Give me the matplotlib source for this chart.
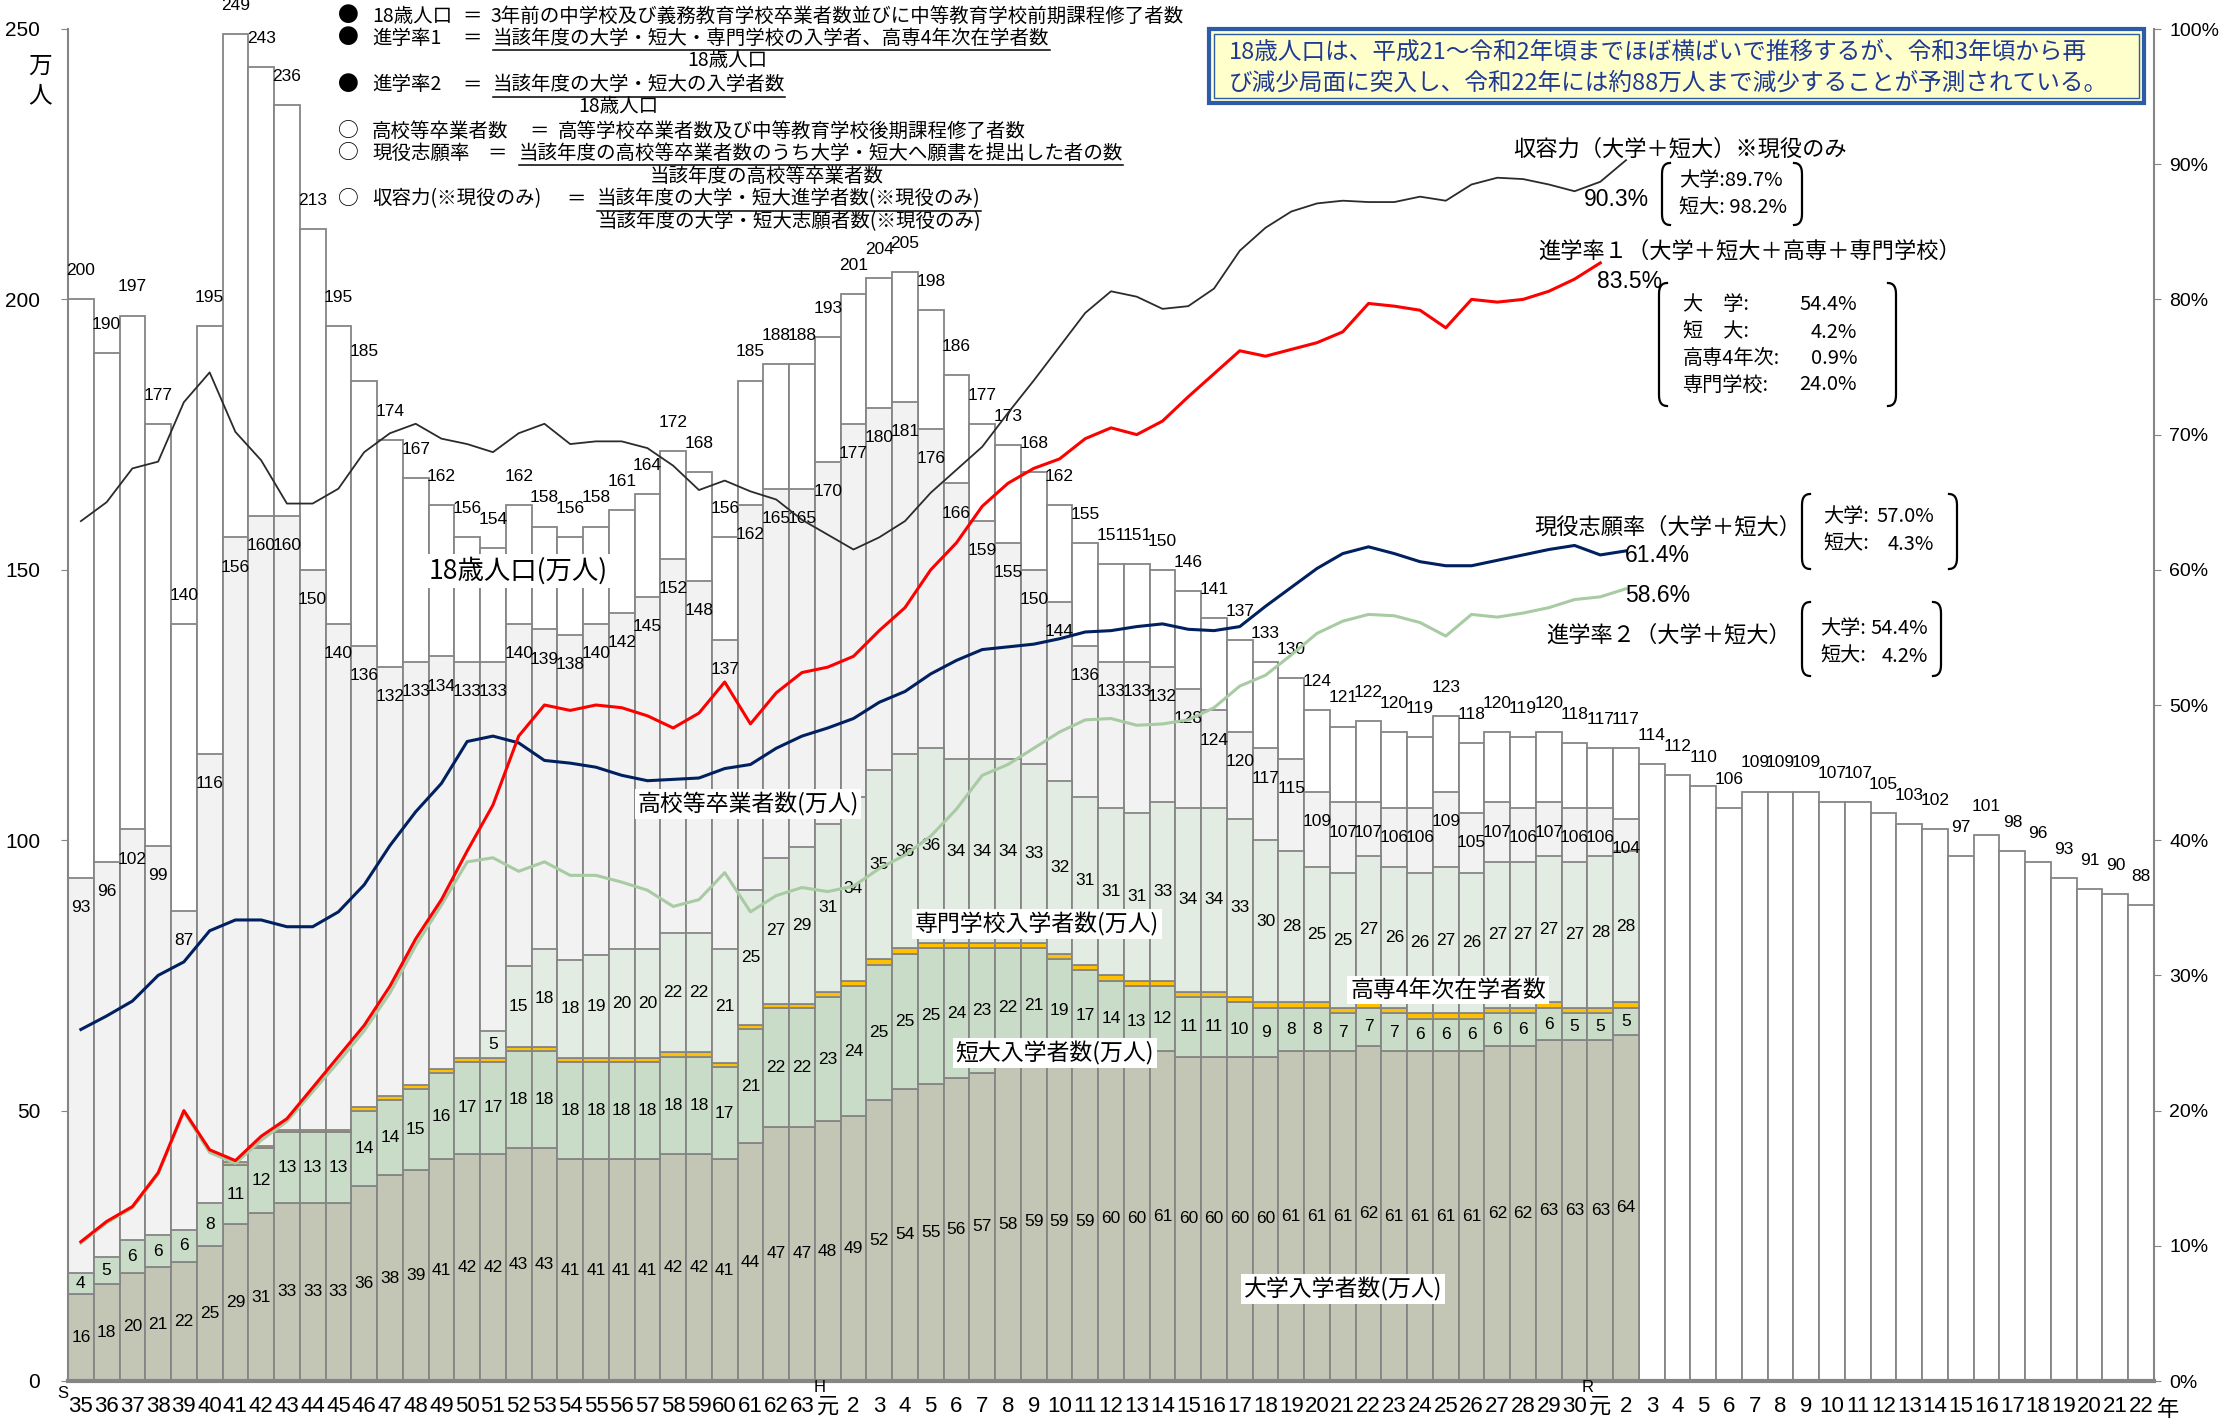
import matplotlib
matplotlib.use('Agg')
import matplotlib.pyplot as plt
from matplotlib import font_manager as fm
from matplotlib.lines import Line2D
from matplotlib.patches import Rectangle
import numpy as np

JP = 'Noto Sans CJK JP'


def has_font(name):
    try:
        fm.findfont(fm.FontProperties(family=name), fallback_to_default=False)
        return True
    except Exception:
        return False


SANS = 'Liberation Sans' if has_font('Liberation Sans') else 'DejaVu Sans'
if has_font('Liberation Sans Narrow'):
    NARROW, NUM_SIZE = 'Liberation Sans Narrow', 14
else:
    NARROW, NUM_SIZE = SANS, 12.5

plt.rcParams['font.family'] = [JP, 'DejaVu Sans']

# --- data (S35 = 1960 ... R22 = 2040), unit: 万人 / % ---
tick_labels = ([str(n) for n in range(35, 64)] + ['元'] + [str(n) for n in range(2, 31)]
               + ['元'] + [str(n) for n in range(2, 23)])

pop18 = [200, 190, 197, 177, 140, 195, 249, 243, 236, 213,
         195, 185, 174, 167, 162, 156, 154, 162, 158, 156,
         158, 161, 164, 172, 168, 156, 185, 188, 188,
         193, 201, 204, 205, 198, 186, 177, 173, 168, 162,
         155, 151, 151, 150, 146, 141, 137, 133, 130, 124,
         121, 122, 120, 119, 123, 118, 120, 119, 120, 118,
         117, 117, 114, 112, 110, 106, 109, 109, 109, 107, 107,
         105, 103, 102, 97, 101, 98, 96, 93, 91, 90, 88]

hs_grad = [93, 96, 102, 99, 87, 116, 156, 160, 160, 150,
           140, 136, 132, 133, 134, 133, 133, 140, 139, 138,
           140, 142, 145, 152, 148, 137, 162, 165, 165,
           170, 177, 180, 181, 176, 166, 159, 155, 150, 144,
           136, 133, 133, 132, 128, 124, 120, 117, 115, 109,
           107, 107, 106, 106, 109, 105, 107, 106, 107, 106,
           106, 104]

univ = [16, 18, 20, 21, 22, 25, 29, 31, 33, 33,
        33, 36, 38, 39, 41, 42, 42, 43, 43, 41,
        41, 41, 41, 42, 42, 41, 44, 47, 47,
        48, 49, 52, 54, 55, 56, 57, 58, 59, 59,
        59, 60, 60, 61, 60, 60, 60, 60, 61, 61,
        61, 62, 61, 61, 61, 61, 62, 62, 63, 63,
        63, 64]

junior = [4, 5, 6, 6, 6, 8, 11, 12, 13, 13,
          13, 14, 14, 15, 16, 17, 17, 18, 18, 18,
          18, 18, 18, 18, 18, 17, 21, 22, 22,
          23, 24, 25, 25, 25, 24, 23, 22, 21, 19,
          17, 14, 13, 12, 11, 11, 10, 9, 8, 8,
          7, 7, 7, 6, 6, 6, 6, 6, 6, 5,
          5, 5]

kosen = [0, 0, 0, 0, 0, 0, 0.5, 0.5, 0.5, 0.5,
         0.5, 0.7, 0.7, 0.7, 0.7, 0.7, 0.8, 0.8, 0.8, 0.8,
         0.8, 0.8, 0.8, 0.8, 0.8, 0.8, 0.8, 0.8, 0.8,
         1.0, 1.0, 1.0, 1.0, 1.0, 1.0, 1.0, 1.0, 1.0, 1.0,
         1.0, 1.0, 1.0, 1.0, 1.0, 1.0, 1.0, 1.0, 1.0, 1.0,
         1.0, 1.0, 1.0, 1.0, 1.0, 1.0, 1.0, 1.0, 1.0, 1.0,
         1.0, 1.0]

vocational = [0, 0, 0, 0, 0, 0, 0, 0, 0, 0,
              0, 0, 0, 0, 0, 0, 5, 15, 18, 18,
              19, 20, 20, 22, 22, 21, 25, 27, 29,
              31, 34, 35, 36, 36, 34, 34, 34, 33, 32,
              31, 31, 31, 33, 34, 34, 33, 30, 28, 25,
              25, 27, 26, 26, 27, 26, 27, 27, 27, 27,
              28, 28]

capacity = [63.6, 65.0, 67.5, 68.0, 72.4, 74.6, 70.2, 68.1, 64.9, 64.9,
            66.0, 68.7, 70.1, 70.8, 69.7, 69.3, 68.7, 70.1, 70.8, 69.3,
            69.5, 69.5, 69.0, 67.7, 65.9, 66.6, 65.8, 65.2, 63.7,
            62.6, 61.5, 62.4, 63.6, 65.7, 67.4, 69.1, 71.6, 74.0, 76.5,
            79.0, 80.6, 80.2, 79.3, 79.5, 80.8, 83.6, 85.3, 86.5, 87.1,
            87.3, 87.2, 87.2, 87.6, 87.3, 88.5, 89.0, 88.9, 88.5, 88.0,
            88.7, 90.3]

rate1 = [10.3, 11.8, 12.9, 15.4, 20.0, 17.1, 16.3, 18.1, 19.4, 21.7,
         24.0, 26.3, 29.2, 32.7, 35.6, 39.2, 42.6, 47.7, 50.0, 49.6,
         50.0, 49.8, 49.2, 48.3, 49.4, 51.7, 48.6, 50.9, 52.4,
         52.8, 53.6, 55.5, 57.2, 60.0, 62.0, 64.7, 66.4, 67.5, 68.2,
         69.7, 70.5, 70.0, 71.0, 72.8, 74.5, 76.2, 75.8, 76.3, 76.8,
         77.6, 79.7, 79.5, 79.2, 77.9, 80.0, 79.8, 80.0, 80.6, 81.5,
         82.7]

apply_rate = [26.0, 27.0, 28.1, 30.0, 31.0, 33.3, 34.1, 34.1, 33.6, 33.6,
              34.7, 36.7, 39.6, 42.1, 44.2, 47.3, 47.7, 47.2, 45.9, 45.7,
              45.4, 44.8, 44.4, 44.5, 44.6, 45.3, 45.6, 46.8, 47.7,
              48.3, 49.0, 50.2, 51.0, 52.3, 53.3, 54.1, 54.3, 54.5, 54.9,
              55.4, 55.5, 55.8, 56.0, 55.6, 55.5, 55.8, 57.3, 58.7, 60.1,
              61.2, 61.7, 61.2, 60.6, 60.3, 60.3, 60.7, 61.1, 61.5, 61.8,
              61.1, 61.4]

rate2 = [10.2, 11.7, 12.8, 15.3, 19.9, 16.9, 16.1, 17.8, 19.2, 21.4,
         23.6, 25.9, 28.7, 32.2, 35.2, 38.4, 38.7, 37.7, 38.4, 37.4,
         37.4, 36.9, 36.3, 35.1, 35.6, 37.6, 34.7, 35.9, 36.5,
         36.2, 36.6, 37.9, 38.9, 40.3, 42.3, 44.8, 45.6, 46.8, 48.0,
         48.9, 49.0, 48.5, 48.6, 48.9, 49.8, 51.4, 52.2, 53.7, 55.3,
         56.2, 56.7, 56.6, 56.1, 55.1, 56.7, 56.5, 56.8, 57.2, 57.8,
         58.0, 58.6]

EDGE = '#858585'
W, H = 2228, 1424

fig = plt.figure(figsize=(W / 100, H / 100), dpi=100)
ax = fig.add_axes([68 / W, 1 - 1381 / H, (2154 - 68) / W, (1381 - 29) / H])

x = np.arange(len(pop18))
xs = np.arange(len(hs_grad))
univ_a = np.array(univ, float)
jun_a = np.array(junior, float)
kos_a = np.array(kosen, float)
voc_a = np.array(vocational, float)
b2 = univ_a + jun_a
b3 = b2 + kos_a

bar_kw = dict(width=1.0, edgecolor=EDGE, linewidth=1.3, zorder=2)
ax.bar(x, pop18, color='white', **bar_kw)
ax.bar(xs, hs_grad, color='#F2F2F2', **bar_kw)
ax.bar(xs, univ_a, color='#C4C6B5', **bar_kw)
ax.bar(xs, jun_a, bottom=univ_a, color='#C9DCC8', **bar_kw)
m = kos_a > 0
ax.bar(xs[m], kos_a[m], bottom=b2[m], color='#FFC000', **bar_kw)
m = voc_a > 0
ax.bar(xs[m], voc_a[m], bottom=b3[m], color='#E3ECE2', **bar_kw)

num = dict(ha='center', va='center', family=NARROW, size=NUM_SIZE, zorder=3)
for i, v in enumerate(pop18):
    ax.text(i, v + 5.3, str(v), **num)
for i, v in enumerate(hs_grad):
    ax.text(i, v - 5.5, str(v), **num)
for i in xs:
    ax.text(i, univ[i] / 2, str(univ[i]), **num)
    ax.text(i, univ[i] + junior[i] / 2, str(junior[i]), **num)
    if vocational[i] > 0:
        ax.text(i, b3[i] + vocational[i] / 2, str(vocational[i]), **num)

ax.set_xlim(-0.5, len(pop18) - 0.5)
ax.set_ylim(0, 250)
ax.set_yticks(range(0, 251, 50))
ax.set_yticklabels([str(v) for v in range(0, 251, 50)], family=SANS, size=15)
ax.set_xticks(x)
ax.set_xticklabels(tick_labels, family=[SANS, JP], size=16)
ax.tick_params(axis='x', length=0, pad=11)
ax.tick_params(axis='y', length=5, color=EDGE, pad=15)
for s in ['top', 'right']:
    ax.spines[s].set_visible(False)
ax.spines['left'].set_color(EDGE)
ax.spines['left'].set_linewidth(1.5)
ax.spines['bottom'].set_color(EDGE)
ax.spines['bottom'].set_linewidth(3)

ax2 = ax.twinx()
ax2.set_ylim(0, 100)
ax2.set_yticks(range(0, 101, 10))
ax2.set_yticklabels([f'{v}%' for v in range(0, 101, 10)], family=SANS, size=14)
ax2.tick_params(axis='y', length=5, color=EDGE, pad=6)
for s in ['top', 'left', 'bottom']:
    ax2.spines[s].set_visible(False)
ax2.spines['right'].set_color(EDGE)
ax2.spines['right'].set_linewidth(1.5)

ax2.plot(xs, rate2, color='#A8CBA3', lw=2.2)
ax2.plot(xs, apply_rate, color='#002060', lw=2.2)
ax2.plot(xs, capacity, color='#2B2B2B', lw=1.3)
ax2.plot(np.arange(len(rate1)), rate1, color='#FF0000', lw=2.2)


def px(xp, yp):
    return xp / W, 1 - yp / H


def ftext(xp, yp, s, size=14, ha='left', va='center', family=None, on=None, **kw):
    fam = family if family is not None else [JP, 'DejaVu Sans']
    target = on if on is not None else fig
    if on is not None:
        kw['transform'] = fig.transFigure
    return target.text(*px(xp, yp), s, size=size, ha=ha, va=va, family=fam, **kw)


# unit label
ftext(40, 66, '万', size=17, ha='center')
ftext(40, 96, '人', size=17, ha='center')

# era markers on x axis
ftext(63, 1393, 'S', size=12, ha='center', family=SANS)
ftext(820, 1388, 'H', size=12, ha='center', family=SANS)
ftext(1588, 1388, 'R', size=12, ha='center', family=SANS)
ftext(2168, 1410, '年', size=16, ha='center')

# series labels with white background
wb = dict(facecolor='white', edgecolor='none', pad=2)
ftext(518, 571, '18歳人口(万人)', size=19, ha='center', on=ax, bbox=wb, zorder=5)
ftext(748, 804, '高校等卒業者数(万人)', size=16.5, ha='center', on=ax, bbox=wb, zorder=5)
ftext(1037, 924, '専門学校入学者数(万人)', size=16.5, ha='center', on=ax, bbox=wb, zorder=5)
ftext(1055, 1053, '短大入学者数(万人)', size=16.5, ha='center', on=ax, bbox=wb, zorder=5)
ftext(1448, 990, '高専4年次在学者数', size=16.5, ha='center', on=ax, bbox=wb, zorder=5)
ftext(1343, 1289, '大学入学者数(万人)', size=16.5, ha='center', on=ax, bbox=wb, zorder=5)

# definitions block
rows = [
    ('●', '18歳人口', 462, 490, '3年前の中学校及び義務教育学校卒業者数並びに中等教育学校前期課程修了者数', False, 16),
    ('●', '進学率1', 462, 493, '当該年度の大学・短大・専門学校の入学者、高専4年次在学者数', True, 38),
    ('●', '進学率2', 462, 493, '当該年度の大学・短大の入学者数', True, 85),
    ('○', '高校等卒業者数', 529, 558, '高等学校卒業者数及び中等教育学校後期課程修了者数', False, 131),
    ('○', '現役志願率', 487, 519, '当該年度の高校等卒業者数のうち大学・短大へ願書を提出した者の数', True, 153),
    ('○', '収容力(※現役のみ)', 566, 597, '当該年度の大学・短大進学者数(※現役のみ)', True, 199),
]
denoms = [('18歳人口', 727, 61), ('18歳人口', 618, 107),
          ('当該年度の高校等卒業者数', 767, 176),
          ('当該年度の大学・短大志願者数(※現役のみ)', 790, 222)]
under = []
for mark, name, xeq, xr, rhs, ul, yy in rows:
    ftext(348, yy, mark, size=15, ha='center')
    ftext(372, yy, name, size=14)
    ftext(xeq, yy, '＝', size=14)
    t = ftext(xr, yy, rhs, size=14)
    if ul:
        under.append(t)
for s, xc, yy in denoms:
    ftext(xc, yy, s, size=14, ha='center')

# message box
fig.add_artist(Rectangle(px(1209, 103), 935 / W, 74 / H, transform=fig.transFigure,
                         facecolor='#FFFFCC', edgecolor='#2E5BA8', lw=3))
fig.add_artist(Rectangle(px(1214, 98), 925 / W, 64 / H, transform=fig.transFigure,
                         facecolor='none', edgecolor='#2E5BA8', lw=1))
msg_color = '#1F3A93'
ftext(1229, 52, '18歳人口は、平成21～令和2年頃までほぼ横ばいで推移するが、令和3年頃から再',
      size=17, color=msg_color)
ftext(1229, 83, 'び減少局面に突入し、令和22年には約88万人まで減少することが予測されている。',
      size=17, color=msg_color)

# line labels
ftext(1513, 149, '収容力（大学＋短大）※現役のみ', size=16)
ftext(1538, 251, '進学率１（大学＋短大＋高専＋専門学校）', size=16)
ftext(1534, 527, '現役志願率（大学＋短大）', size=16)
ftext(1546, 635, '進学率２（大学＋短大）', size=16)
for s, xp_, yp_ in [('90.3%', 1584, 200), ('83.5%', 1597, 282),
                    ('61.4%', 1625, 555), ('58.6%', 1625, 596)]:
    ftext(xp_, yp_, s, size=16.5, family=SANS)


def bracket(x0, x1, y0, y1, hook=8, curl=11):
    t = np.linspace(0, 1, 8)
    for xe, sgn in [(x0, 1), (x1, -1)]:
        top_x = (1 - t) ** 2 * (xe + sgn * hook) + 2 * (1 - t) * t * xe + t ** 2 * xe
        top_y = (1 - t) ** 2 * y0 + 2 * (1 - t) * t * y0 + t ** 2 * (y0 + curl)
        bx = top_x[::-1]
        by = (y0 + y1) - top_y[::-1]
        xs_ = np.concatenate([top_x, bx])
        ys_ = np.concatenate([top_y, by])
        fig.add_artist(Line2D(xs_ / W, 1 - ys_ / H, transform=fig.transFigure,
                              color='black', lw=1.6))


bracket(1662, 1802, 163, 225)
ftext(1679, 181, '大学:89.7%', size=14.5)
ftext(1679, 208, '短大: 98.2%', size=14.5)

bracket(1659, 1896, 283, 406)
for lab, val, yy in [('大　学:', '54.4%', 305), ('短　大:', '4.2%', 332),
                     ('高専4年次:', '0.9%', 359), ('専門学校:', '24.0%', 385)]:
    ftext(1683, yy, lab, size=14.5)
    ftext(1857, yy, val, size=14.5, ha='right')

bracket(1802, 1957, 494, 569)
ftext(1823, 517, '大学:', size=14.5)
ftext(1934, 517, '57.0%', size=14.5, ha='right')
ftext(1823, 544, '短大:', size=14.5)
ftext(1934, 544, '4.3%', size=14.5, ha='right')

bracket(1802, 1941, 602, 676)
ftext(1820, 628, '大学:', size=14.5)
ftext(1928, 628, '54.4%', size=14.5, ha='right')
ftext(1820, 656, '短大:', size=14.5)
ftext(1928, 656, '4.2%', size=14.5, ha='right')

# underline the numerators of the definitions
fig.canvas.draw()
r = fig.canvas.get_renderer()
inv = fig.transFigure.inverted()
for t in under:
    bb = t.get_window_extent(r)
    (a0, b0), (a1, _) = inv.transform([(bb.x0, bb.y0 - 1), (bb.x1, bb.y0)])
    fig.add_artist(Line2D([a0, a1], [b0, b0], transform=fig.transFigure, color='black', lw=1.1))

fig.savefig('out.png', dpi=100)
plt.close(fig)
